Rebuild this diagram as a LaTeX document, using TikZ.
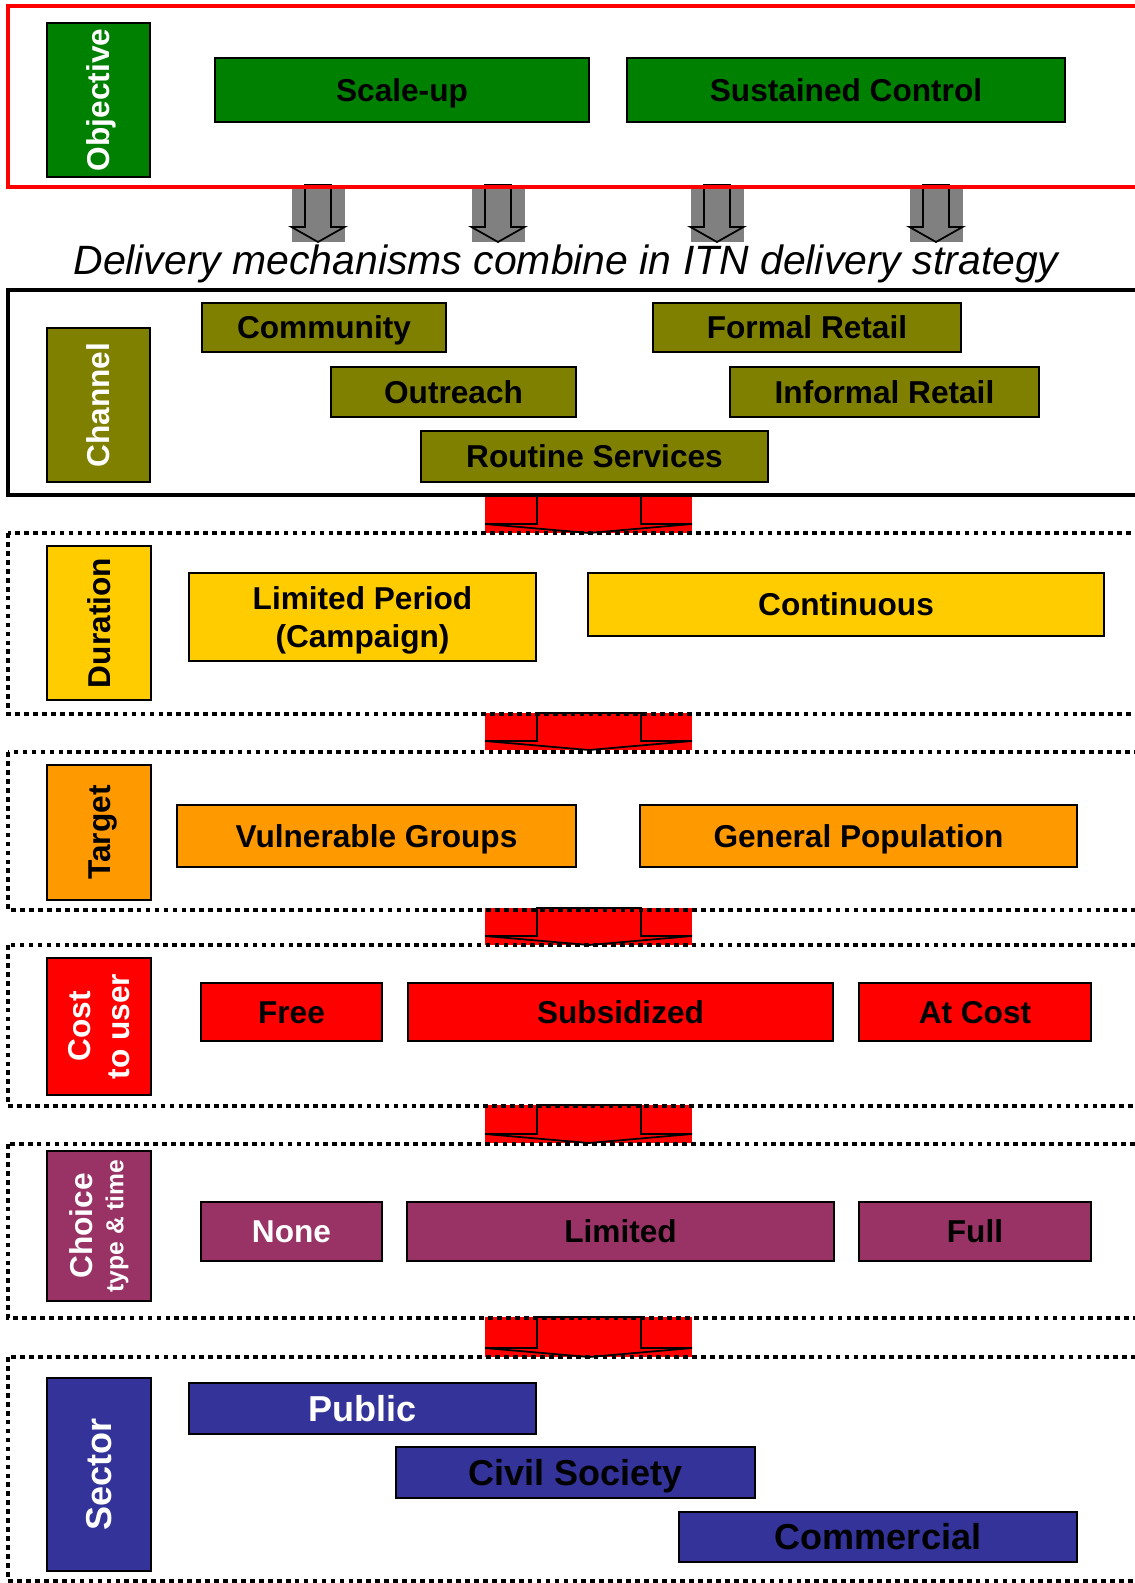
\documentclass[tikz,border=0pt]{standalone}
\usepackage{fontspec}
\setmainfont{Liberation Sans}
\usetikzlibrary{positioning}
\definecolor{objgreen}{HTML}{008000}
\definecolor{chanolive}{HTML}{808000}
\definecolor{durgold}{HTML}{FFCC00}
\definecolor{tgtorange}{HTML}{FF9900}
\definecolor{costred}{HTML}{FF0000}
\definecolor{choicemaroon}{HTML}{993366}
\definecolor{sectorblue}{HTML}{333399}
\definecolor{arrowgrey}{HTML}{808080}
\newcommand{\boxfont}{\fontsize{18}{21}\selectfont\bfseries}
\newcommand{\bigboxfont}{\fontsize{20.5}{24}\selectfont\bfseries}
\tikzset{
    sz/.style 2 args={minimum width=#1*0.02cm, minimum height=#2*0.02cm},
    plainbox/.style={draw=black, line width=0.85pt, inner sep=0pt, font=\boxfont},
    optbox/.style={plainbox, text height=15.5pt, text depth=2.6pt},
    bigbox/.style={plainbox, font=\bigboxfont, text height=17.6pt, text depth=3pt},
    catbox/.style={optbox, rotate=90},
    multicat/.style={plainbox, rotate=90, align=center},
    solidframe/.style={line width=2.2pt},
    dotframe/.style={line width=2.6pt, dash pattern=on 2.7pt off 2.4pt}
}

\begin{document}
\begin{tikzpicture}[x=0.02cm,y=-0.02cm]
    \useasboundingbox (0,0) rectangle (1134,1583);

    % block arrows
    \foreach \x in {318,498,717,936}{
        \fill[arrowgrey] (\x-26.5,185) rectangle (\x+26.5,242);
        \draw[fill=arrowgrey, line width=1pt] (\x-13,185) -- (\x+13,185) -- (\x+13,227) -- (\x+26.5,227) -- (\x,242) -- (\x-26.5,227) -- (\x-13,227) -- cycle;
    }
    \foreach \t/\b in {496/533,713/750,908/945,1105/1143,1317/1357}{
        \fill[costred] (485,\t) rectangle (692,\b);
        \draw[fill=costred, line width=1pt] (537,\t) -- (641,\t) -- (641,\b-9) -- (692,\b-9) -- (589,\b) -- (485,\b-9) -- (537,\b-9) -- cycle;
    }

    % frames
    \draw[solidframe, costred] (8,6) rectangle (1150,187);
    \draw[solidframe] (8,290) rectangle (1150,495);
    \draw[dotframe] (8,533) rectangle (1150,714);
    \draw[dotframe] (8,752) rectangle (1150,910);
    \draw[dotframe] (8,945) rectangle (1150,1106);
    \draw[dotframe] (8,1144) rectangle (1150,1318);
    \draw[dotframe] (8,1357) rectangle (1150,1581);

    % objective
    \node[catbox, fill=objgreen, text=white, sz={154}{103}] (objective) at (98.5,100) {Objective};
    \node[optbox, fill=objgreen, sz={374}{64}] (scaleup) at (402,90) {Scale-up};
    \node[optbox, fill=objgreen, sz={438}{64}] (sustained) at (846,90) {Sustained Control};

    \node[anchor=base, font=\fontsize{23.3}{28}\selectfont\itshape] (strategy) at (566,274) {Delivery mechanisms combine in ITN delivery strategy};

    % channel
    \node[catbox, fill=chanolive, text=white, sz={154}{103}] (channel) at (98.5,405) {Channel};
    \node[optbox, fill=chanolive, sz={244}{49}] (community) at (324,327.5) {Community};
    \node[optbox, fill=chanolive, sz={308}{49}] (formal) at (807,327.5) {Formal Retail};
    \node[optbox, fill=chanolive, sz={245}{50}] (outreach) at (453.5,392) {Outreach};
    \node[optbox, fill=chanolive, sz={309}{50}] (informal) at (884.5,392) {Informal Retail};
    \node[optbox, fill=chanolive, sz={347}{51}] (routine) at (594.5,456.5) {Routine Services};

    % duration
    \node[catbox, fill=durgold, sz={154}{104}] (duration) at (99,623) {Duration};
    \node[plainbox, fill=durgold, sz={347}{88}, align=center, font=\fontsize{18}{22}\selectfont\bfseries, text depth=-0.6pt] (campaign) at (362.5,617) {Limited Period\\(Campaign)};
    \node[optbox, fill=durgold, sz={516}{63}] (continuous) at (846,604.5) {Continuous};

    % target
    \node[catbox, fill=tgtorange, sz={135}{104}] (target) at (99,832.5) {Target};
    \node[optbox, fill=tgtorange, sz={399}{62}] (vulnerable) at (376.5,836) {Vulnerable Groups};
    \node[optbox, fill=tgtorange, sz={437}{62}] (general) at (858.5,836) {General Population};

    % cost
    \node[multicat, fill=costred, text=white, sz={137}{104}, font=\fontsize{18}{22}\selectfont\bfseries] (cost) at (99,1026.5) {Cost\\to user};
    \node[optbox, fill=costred, sz={181}{58}] (free) at (291.5,1012) {Free};
    \node[optbox, fill=costred, sz={425}{58}] (subsidized) at (620.5,1012) {Subsidized};
    \node[optbox, fill=costred, sz={232}{58}] (atcost) at (975,1012) {At Cost};

    % choice
    \node[multicat, fill=choicemaroon, text=white, sz={150}{104}, font=\fontsize{18}{17.6}\selectfont\bfseries] (choice) at (99,1226) {Choice\\{\fontsize{14}{17.6}\selectfont type \& time}};
    \node[optbox, fill=choicemaroon, text=white, sz={181}{59}] (none) at (291.5,1231.5) {None};
    \node[optbox, fill=choicemaroon, sz={427}{59}] (limited) at (620.5,1231.5) {Limited};
    \node[optbox, fill=choicemaroon, sz={232}{59}] (full) at (975,1231.5) {Full};

    % sector
    \node[bigbox, rotate=90, fill=sectorblue, text=white, sz={193}{104}] (sector) at (99,1474.5) {Sector};
    \node[bigbox, fill=sectorblue, text=white, sz={347}{51}] (public) at (362.5,1408.5) {Public};
    \node[bigbox, fill=sectorblue, sz={359}{51}] (civil) at (575.5,1472.5) {Civil Society};
    \node[bigbox, fill=sectorblue, sz={398}{50}] (commercial) at (878,1537) {Commercial};
\end{tikzpicture}
\end{document}
